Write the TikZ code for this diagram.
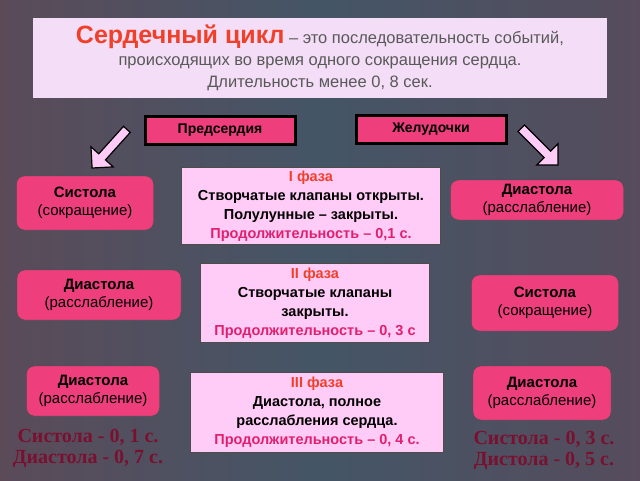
\documentclass[tikz,border=0pt]{standalone}
\usepackage{fontspec}
\setmainfont{Liberation Sans}
\newfontfamily\serifbold{Liberation Serif}
\usetikzlibrary{shapes.arrows}
\definecolor{boxpink}{HTML}{EE3F7C}
\definecolor{phasebg}{HTML}{FFCCF8}
\definecolor{titlebg}{HTML}{F4DDF6}
\definecolor{phasered}{HTML}{F0402A}
\definecolor{durpink}{HTML}{E0206F}
\definecolor{maroon}{HTML}{7A1030}
\pgfdeclarehorizontalshading{slidebg}{100bp}{
  color(0bp)=(rgb:red,0.95;green,0.78;blue,0.93);
  color(25bp)=(rgb:red,0.95;green,0.78;blue,0.93);
  color(50bp)=(rgb:red,0.65;green,0.82;blue,0.98);
  color(75bp)=(rgb:red,0.89;green,0.79;blue,0.96);
  color(100bp)=(rgb:red,0.89;green,0.79;blue,0.96)}
\tikzset{
  headbox/.style={draw=black, line width=3pt, fill=boxpink, minimum width=150pt, minimum height=28pt, font=\bfseries\fontsize{14}{16}\selectfont},
  statebox/.style={draw=black!70, rounded corners=8pt, fill=boxpink, align=center, font=\fontsize{15}{18}\selectfont},
  phasebox/.style={draw=black!70, line width=1pt, fill=phasebg, align=center, font=\bfseries\fontsize{14.5}{19}\selectfont},
  blockarrow/.style={single arrow, draw=black, line width=1.2pt, fill=phasebg, minimum height=52pt, minimum width=30pt, single arrow head extend=6pt, inner sep=2pt},
  totals/.style={align=center, text=maroon, font=\serifbold\bfseries\fontsize{20}{21}\selectfont}
}
\begin{document}
\begin{tikzpicture}[x=1pt,y=-1pt]
  \shade[shading=slidebg] (0,0) rectangle (640,480);
  \useasboundingbox (0,0) rectangle (640,480);
  \node[fill=titlebg, minimum width=574pt, minimum height=80pt, align=center, font=\fontsize{16.5}{22}\selectfont, text=black!65] (title) at (320,58)
    {{\color{phasered}\bfseries\fontsize{25}{27}\selectfont Сердечный цикл} -- это последовательность событий,\\ происходящих во время одного сокращения сердца.\\ Длительность менее 0, 8 сек.};
  \node[headbox] (atria) at (220,130) {Предсердия};
  \node[headbox] (ventr) at (431,129) {Желудочки};
  \node[blockarrow, rotate=-132] (arrL) at (111,147) {};
  \node[blockarrow, rotate=-45] (arrR) at (538,145) {};
  % row 1
  \node[statebox, minimum width=137pt, minimum height=54pt] (sys1) at (85,203) {\textbf{Систола}\\(сокращение)};
  \node[phasebox, minimum width=259pt, minimum height=77pt, inner sep=1pt] (ph1) at (311,206)
    {\textcolor{phasered}{I фаза}\\Створчатые клапаны открыты.\\Полулунные -- закрыты.\\\textcolor{durpink}{Продолжительность -- 0,1 с.}};
  \node[statebox, minimum width=173pt, minimum height=40pt, inner sep=1pt] (dia1) at (537,200) {\textbf{Диастола}\\(расслабление)};
  % row 2
  \node[statebox, minimum width=164pt, minimum height=50pt] (dia2) at (99,295) {\textbf{Диастола}\\(расслабление)};
  \node[phasebox, minimum width=229pt, minimum height=79pt, inner sep=1pt] (ph2) at (315,303)
    {\textcolor{phasered}{II фаза}\\Створчатые клапаны\\закрыты.\\\textcolor{durpink}{Продолжительность -- 0, 3 с}};
  \node[statebox, minimum width=147pt, minimum height=56pt] (sys2) at (545,303) {\textbf{Систола}\\(сокращение)};
  % row 3
  \node[statebox, minimum width=133pt, minimum height=50pt, inner sep=1pt] (dia3) at (93,391) {\textbf{Диастола}\\(расслабление)};
  \node[phasebox, minimum width=253pt, minimum height=80pt] (ph3) at (317,412)
    {\textcolor{phasered}{III фаза}\\Диастола, полное\\расслабления сердца.\\\textcolor{durpink}{Продолжительность -- 0, 4 с.}};
  \node[statebox, minimum width=138pt, minimum height=54pt] (dia4) at (542,393) {\textbf{Диастола}\\(расслабление)};
  \node[totals] (sumL) at (88,448) {Систола - 0, 1 с.\\Диастола - 0, 7 с.};
  \node[totals] (sumR) at (544,450) {Систола - 0, 3 с.\\Дистола - 0, 5 с.};
\end{tikzpicture}
\end{document}
